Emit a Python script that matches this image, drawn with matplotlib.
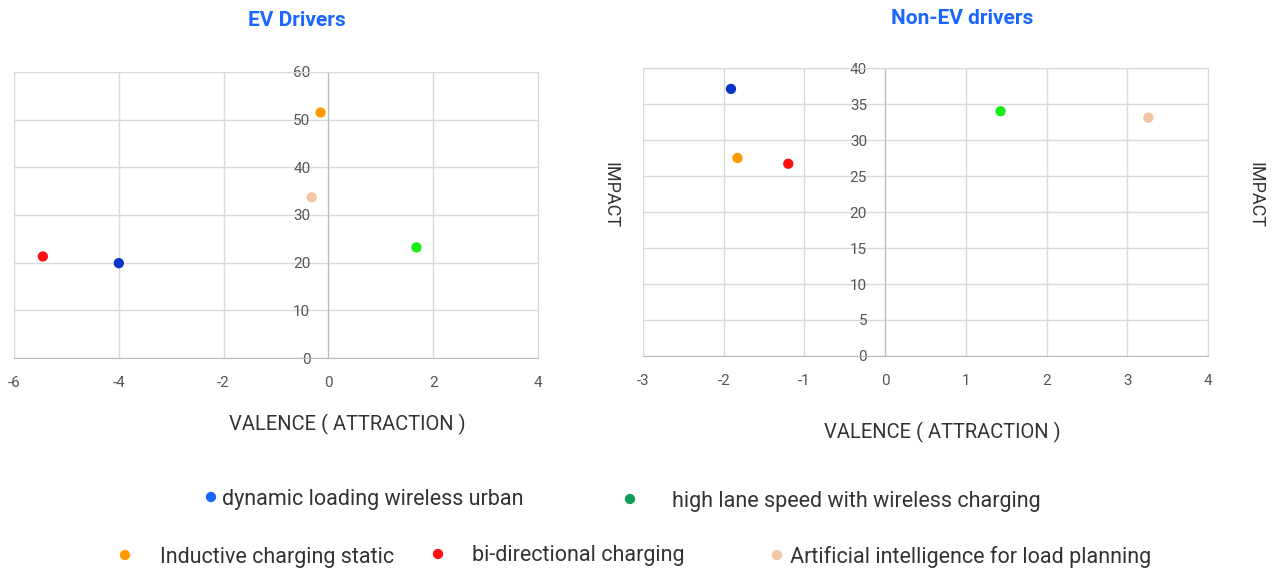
import matplotlib.pyplot as plt

# scatter data: valence (x) and impact (y) per charging concept
labels = ['dynamic loading wireless urban', 'high lane speed with wireless charging',
          'Inductive charging static', 'bi-directional charging',
          'Artificial intelligence for load planning']
ev_valence = [-4.0, 1.68, -0.15, -5.45, -0.32]
ev_impact = [19.9, 23.2, 51.5, 21.3, 33.7]
nonev_valence = [-1.91, 1.43, -1.83, -1.20, 3.26]
nonev_impact = [37.1, 34.0, 27.5, 26.7, 33.1]

point_colors = ['#0a34c8', '#16ee16', '#ff9a00', '#ff1010', '#f4c5a4']
legend_colors = ['#1a66ff', '#0f9d58', '#ff9a00', '#ff1010', '#f4c5a4']

plt.rcParams['font.family'] = ['Roboto', 'DejaVu Sans']
plt.rcParams['axes.unicode_minus'] = False

fig = plt.figure(figsize=(12.77, 5.74), dpi=100)
grid_c = '#d9d9d9'
tick_c = '#555555'


def draw_panel(ax, xs, ys, xlim, ylim, xticks, yticks):
    ax.scatter(xs, ys, c=point_colors, s=55, zorder=3, edgecolors='none')
    ax.set_xlim(xlim)
    ax.set_ylim(ylim)
    ax.set_xticks(xticks)
    ax.set_yticks(yticks)
    ax.grid(True, color=grid_c, linewidth=1)
    ax.set_axisbelow(True)
    for s in ['top', 'right']:
        ax.spines[s].set_color(grid_c)
    ax.spines['bottom'].set_color('#bbbbbb')
    ax.spines['left'].set_position(('data', 0))
    ax.spines['left'].set_color('#bbbbbb')
    ax.tick_params(length=0, labelsize=11, labelcolor=tick_c)
    ax.tick_params(axis='x', pad=13)
    ax.tick_params(axis='y', pad=13)
    ax.axvline(xlim[0], color=grid_c, linewidth=1.5, zorder=0)


ax1 = fig.add_axes([0.011, 0.3763, 0.4103, 0.4983])
draw_panel(ax1, ev_valence, ev_impact, (-6, 4), (0, 60),
           [-6, -4, -2, 0, 2, 4], [0, 10, 20, 30, 40, 50, 60])

ax2 = fig.add_axes([0.5035, 0.3798, 0.4425, 0.5017])
draw_panel(ax2, nonev_valence, nonev_impact, (-3, 4), (0, 40),
           [-3, -2, -1, 0, 1, 2, 3, 4], [0, 5, 10, 15, 20, 25, 30, 35, 40])

# panel titles
fig.text(297 / 1277, 1 - 20 / 574, 'EV Drivers', ha='center', va='center',
         color='#1a66ff', fontweight='bold', fontsize=15)
fig.text(962 / 1277, 1 - 18 / 574, 'Non-EV drivers', ha='center', va='center',
         color='#1a66ff', fontweight='bold', fontsize=15)

# axis captions
fig.text(347 / 1277, 1 - 424 / 574, 'VALENCE ( ATTRACTION )', ha='center', va='center',
         fontsize=14.5, color='#333333')
fig.text(942 / 1277, 1 - 432 / 574, 'VALENCE ( ATTRACTION )', ha='center', va='center',
         fontsize=14.5, color='#333333')
fig.text(610 / 1277, 1 - 195 / 574, 'IMPACT', rotation=270, ha='center', va='center',
         fontsize=13, color='#333333')
fig.text(1255 / 1277, 1 - 195 / 574, 'IMPACT', rotation=270, ha='center', va='center',
         fontsize=13, color='#333333')

# legend, two rows
leg = fig.add_axes([0, 0, 1, 1], facecolor='none')
leg.set_xlim(0, 1277)
leg.set_ylim(574, 0)
leg.axis('off')
entries = [(211, 497, 222), (630, 499, 672), (125, 555, 160), (438, 554, 472), (777, 555, 790)]
for (mx, my, tx), lab, col in zip(entries, labels, legend_colors):
    leg.scatter([mx], [my], s=55, color=col, edgecolors='none')
    leg.text(tx, my + 2, lab, ha='left', va='center', fontsize=15.5, color='#333333')

fig.savefig('out.png', dpi=100)
